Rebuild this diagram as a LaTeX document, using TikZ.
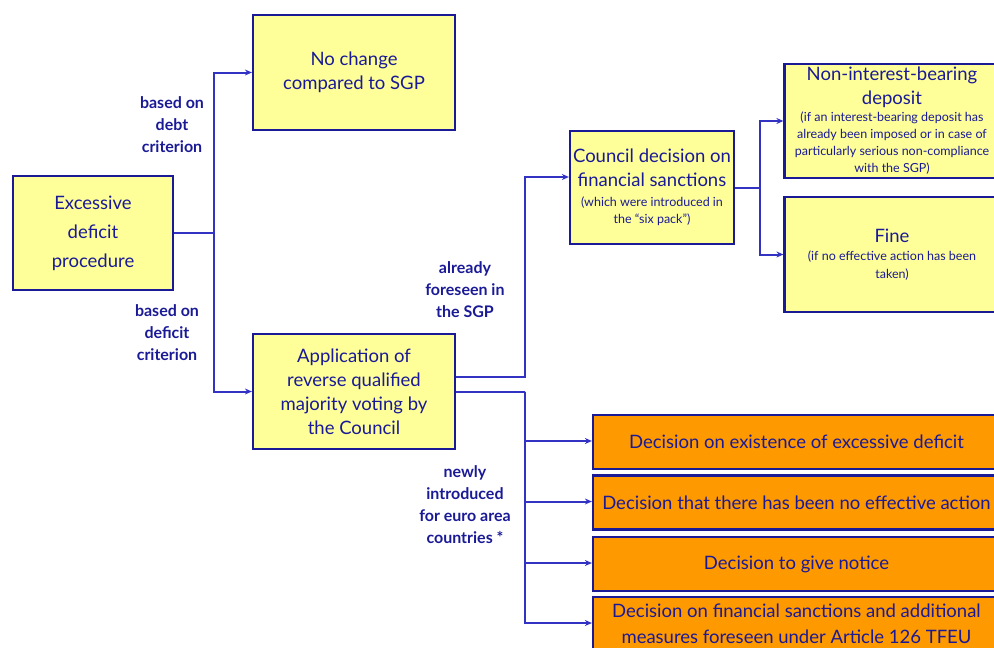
\documentclass[tikz,border=0pt]{standalone}
\usepackage{fontspec}
\setmainfont{Lato}
\usetikzlibrary{arrows.meta}
\definecolor{navy}{RGB}{26,26,150}
\definecolor{connblue}{RGB}{50,50,195}
\definecolor{paleyellow}{RGB}{255,255,153}
\definecolor{deeporange}{RGB}{255,153,0}
\newcommand{\smalltext}[1]{{\fontsize{12.5}{17}\selectfont #1}}
\tikzset{
	box/.style={draw=navy, line width=2.2pt, fill=paleyellow, text=navy, align=center, inner sep=1pt, font=\fontsize{18.5}{24}\selectfont},
	orangebox/.style={box, fill=deeporange, minimum width=407pt, minimum height=54pt},
	conn/.style={draw=connblue, line width=2pt},
	arr/.style={conn, -{Stealth[length=7pt,width=6pt]}},
	lbl/.style={text=navy, align=center, font=\bfseries\fontsize{16}{22}\selectfont}
}
\begin{document}
\begin{tikzpicture}[x=1pt, y=-1pt]
	%\draw [help lines] (0,0) grid[step=50] (994,648);
	\useasboundingbox (0,0) rectangle (994,648);
	\node[box, minimum width=160pt, minimum height=114pt, font=\fontsize{18.5}{29}\selectfont] (edp) at (93,233) {Excessive\\deficit\\procedure};
	\node[box, minimum width=202pt, minimum height=115pt] (nochange) at (354,72.5) {No change\\compared to SGP};
	\node[box, minimum width=202pt, minimum height=115pt] (rqmv) at (354,391.5) {Application of\\reverse qualified\\majority voting by\\the Council};
	\node[box, minimum width=164pt, minimum height=113pt] (council) at (652,187.5) {Council decision on\\financial sanctions\\[-4pt]\smalltext{(which were introduced in}\\[-7pt]\smalltext{the ``six pack'')}};
	\node[box, minimum width=215pt, minimum height=114pt] (deposit) at (892,121) {Non-interest-bearing\\deposit\\[-7pt]\smalltext{(if an interest-bearing deposit has}\\[-7pt]\smalltext{already been imposed or in case of}\\[-7pt]\smalltext{particularly serious non-compliance}\\[-7pt]\smalltext{with the SGP)}};
	\node[box, minimum width=215pt, minimum height=115pt] (fine) at (892,254.5) {Fine\\[-6pt]\smalltext{(if no effective action has been}\\[-6pt]\smalltext{taken)}};
	\node[orangebox] (existence) at (796.5,442) {Decision on existence of excessive deficit};
	\node[orangebox] (noaction) at (796.5,502.5) {Decision that there has been no effective action};
	\node[orangebox] (notice) at (796.5,564) {Decision to give notice};
	\node[orangebox, font=\fontsize{18.5}{26}\selectfont] (sanctions) at (796.5,624) {Decision on financial sanctions and additional\\measures foreseen under Article 126 TFEU};
	\node[lbl] (debtlbl) at (172,125) {based on\\debt\\criterion};
	\node[lbl] (deficitlbl) at (167,333) {based on\\deficit\\criterion};
	\node[lbl] (sgplbl) at (465,290) {already\\foreseen in\\the SGP};
	\node[lbl] (eurolbl) at (465,505) {newly\\introduced\\for euro area\\countries *};
	% connectors
	\draw[conn] (edp.east) -- ++(40,0) coordinate (split);
	\draw[arr] (split) |- (nochange.west);
	\draw[arr] (split) |- (rqmv.west);
	\draw[arr] ([yshift=14.5pt]rqmv.east) -- ++(69,0) |- ([yshift=10.5pt]council.west);
	\draw[conn] (rqmv.east) -- ++(69,0) coordinate (branch);
	\foreach \target in {existence, noaction, notice, sanctions}
		\draw[arr] (branch) |- ([yshift=1pt]\target.west);
	\draw[conn] (council.east) -- ++(25,0) coordinate (fork);
	\draw[arr] (fork) |- (deposit.west);
	\draw[arr] (fork) |- (fine.west);
\end{tikzpicture}
\end{document}
